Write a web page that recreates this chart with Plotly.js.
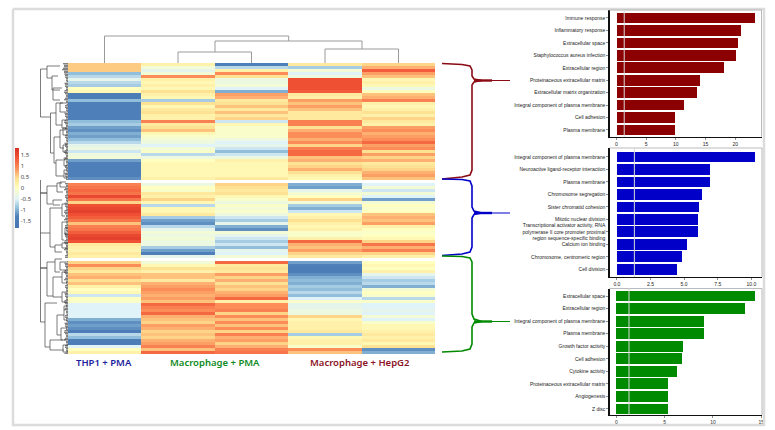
<!DOCTYPE html>
<html><head><meta charset="utf-8">
<script src="https://cdn.plot.ly/plotly-3.0.1.min.js"></script>
<style>html,body{margin:0;padding:0;background:#fff}#c{width:775px;height:430px}</style>
</head><body><div id="c"></div>
<script>
// ---------- heatmap data ----------
const col1 = [.55,.55,.55,-.9,-.7,-.4,-.7,-.8,0,.1,
 -1.4,-1.4,-.9,-1.3,-1.3,-1.3,-1.3,-1.3,-1.3,-.9,
 -.8,-1.1,-1.2,-1,-1.1,-.9,-.7,-.4,-.3,-.6,
 -.3,-.2,-1.1,-1.3,-1.3,-1.3,-1.3,-1.3,-1.2,null,
 1,1.1,1.2,1.1,1.5,1.1,.5,1.4,1.5,1.6,
 1.4,1.3,1.1,.6,1,1.1,1.3,1.5,1.6,1.4,
 .3,.2,.15,.3,.2,null,.5,.9,.5,.3,
 .6,.7,.4,.6,.2,0,.1,-.6,0,-.1,
 -.5,-.5,-.5,-.5,-.5,-1,-1.2,-1.1,-1.2,-1.4,
 -.7,-.9,-1.4,-1.4,-.5,0,.2];
const col2 = [.2,-.2,-.4,-.2,.9,.2,.1,.2,.1,.4,
 .2,.1,-.8,.4,.1,.3,.4,.2,.2,1,
 .3,.4,.6,.1,-.1,-.2,-.3,-.5,-.2,-.1,
 -.7,-.3,0,.1,.1,.1,.1,.1,.2,null,
 -.3,0,-.1,.3,.2,.5,.1,-.7,.1,.1,
 .3,-.8,-1.1,-1.2,-.7,-.4,-.2,-.3,-.2,-.3,
 -.3,-.8,-1.1,-1.3,-.4,null,-.2,.1,.4,.2,
 .6,.6,.3,.7,.8,.9,.8,.7,.8,.6,
 1.2,1,.9,1.2,.7,.6,.5,.8,.7,.5,
 .6,.5,.7,.8,1,.6,1.2];
const col3 = [-1.3,-.7,.2,.9,.4,-.3,-.3,-.2,-.5,-1,
 .8,.7,.3,.4,.6,.3,.6,.3,.5,-.6,
 .1,-.1,-.1,-.1,-.1,-.3,-.5,-.4,-.6,-.9,
 -.6,-.3,.2,.1,.1,.1,.1,.1,.3,null,
 .5,.4,.3,.4,.1,-.1,-.3,-.1,-.2,-.1,
 -.3,-.6,-.8,-.4,-1,-1.2,-.2,-.4,-.6,-.8,
 -.6,-.9,-.4,-.5,-.2,null,1.2,.3,.4,.3,
 .8,.5,.7,.4,.6,.5,.7,.8,1.2,.2,
 .9,.9,1,.5,.9,.6,.9,.6,.9,.5,
 1,.7,.8,.5,.7,1,1.1];
const col4 = [.3,-.8,-.2,-.5,-.3,1.4,1.4,1.4,1.4,1.3,
 .3,.2,.8,.6,.8,.6,.3,.3,.3,1,
 1,.4,.7,.9,.9,.7,.9,.5,1,1.2,
 1.2,.6,.7,.4,.5,.7,.4,.2,.1,null,
 -1,-1.1,-.4,-.2,0,.5,-.2,-.8,-1,-.6,
 .1,.2,.4,.2,.1,.2,-.1,-.1,.2,1.2,
 .7,.6,.8,.5,.3,null,-1.1,-1.3,-1.4,-1.4,
 -1.2,-1,-.9,-1,-.8,-.9,-.7,-.9,-.5,-.1,
 -.4,-.4,-.3,-.3,.5,.1,.2,.2,.2,.3,
 -.8,.1,.2,.2,-.1,.9,.6];
const col5 = [.5,.7,1.3,.8,.6,.1,.2,.1,-.3,0,
 .6,.7,1,.2,.1,.2,.4,.2,.5,.3,
 .2,.8,.9,.7,.8,.9,1.2,.8,.9,.4,
 .8,.5,.7,.3,.4,.5,.7,.8,.6,null,
 -.5,-.2,-.6,-.2,-.5,-1.1,-.2,0,-.1,0,
 .6,.7,.6,.8,.2,0,-.1,0,.1,.5,
 1.1,.7,1,.5,.2,null,0,.1,0,.2,
 -.4,-.6,-.8,-.7,-1,-.2,0,-.1,-.7,-.1,
 -.5,-.5,-.4,-.5,-.2,-.5,-.1,.1,.1,.2,
 .3,.2,.3,.1,.4,-1.2,-1];
const colorTicks = [1.5,1,0.5,0,-0.5,-1,-1.5];
const colorTickText = ['1.5','1','0.5','0','-0.5','-1','-1.5'];

// ---------- bar panel data ----------
const redTerms = ['Immune response','Inflammatory response','Extracellular space','Staphylococcus aureus infection','Extracellular region','Proteinaceous extracellular matrix','Extracellular matrix organization','Integral component of plasma membrane','Cell adhesion','Plasma membrane'];
const redValues = [23.4,21.0,20.4,20.2,18.1,14.0,13.5,11.4,9.9,9.85];
const blueTerms = ['Integral component of plasma membrane','Neuroactive ligand-receptor interaction','Plasma membrane','Chromosome segregation','Sister chromatid cohesion','Mitotic nuclear division','Transcriptional activator activity, RNA<br>polymerase II core promoter proximal<br>region sequence-specific binding','Calcium ion binding','Chromosome, centromeric region','Cell division'];
const blueValues = [10.27,6.91,6.91,6.34,6.12,6.02,6.0,5.23,4.86,4.47];
const greenTerms = ['Extracellular space','Extracellular region','Integral component of plasma membrane','Plasma membrane','Growth factor activity','Cell adhesion','Cytokine activity','Proteinaceous extracellular matrix','Angiogenesis','Z disc'];
const greenValues = [14.4,13.27,9.12,9.05,6.94,6.78,6.32,5.36,5.29,5.29];
const significanceLine = 1.3;

// ---------- annotation geometry in overlay units (pixels of the figure) ----------
// top dendrogram segments: x1,y1,x2,y2
const topTree = [[104.5,36,288.7,36],[104.5,36,104.5,63],[288.7,36,288.7,41],
 [215,41,362,41],[215,41,215,52],[178,52,251.5,52],[178,52,178,63],[251.5,52,251.5,63],
 [362,41,362,49],[325,49,398.5,49],[325,49,325,63],[398.5,49,398.5,63]];
// left dendrogram brackets: vertical x, y1, y2, arm end at y1, arm end at y2
const leftTree = [
 [40.5,69,117,47,50],[40.5,180,193,40.5,47],[40.5,193,233,47,50],[40.5,233,268,40.5,47],[40.5,268,322,47,45],
 [47,66,78,60,52],[52,76,90,58,60],[53,88,100,62,60],[50.5,113,153,56,54],
 [56,103,125,63,62],[60,103,112,66,66],[62,120,128,66,66],[54,137,163,60,56],
 [60,130,148,64,64],[63,128,135,67,67],[63,145,152,67,67],[56,160,176,63,64],[64,158,166,67,67],[64,170,178,67,67],
 [47,186,204,57,52],[57,183,192,62,63],[60,182,187,66,66],[53,200,205,62,60],
 [50,208,247,62,55],[62,204,216,65,65],[62,222,240,66,64],[65,228,235,68,68],[55,245,252,62,62],[62,243,248,68,68],
 [47,262,296,55,53],[55,259,272,62,60],[60,262,270,66,66],[53,277,297,62,62],[62,272,283,67,67],[62,292,302,67,67],
 [45,303,347,57,50],[57,315,335,64,61],[64,306,320,67,67],[61,328,340,67,66],[50,340,350,63,64],[63,345,352,68,68]];
const leafLengths = [3,2,4,2,3,2,1.5,3,2,3.5];
const redBrace = [[442,63.5],[462,64.5],[470,66],[472,70],[472,76],[474,79],[482,80.5],[474,82],[472,85],[472,170],[470,175],[462,177],[442,179]];
const blueBrace = [[442,179],[462,179.5],[470,181],[472,186],[472,207],[474,211],[482,213],[474,214.5],[472,218],[472,247],[470,252],[462,254],[442,255.5]];
const greenBrace = [[442,256],[462,256.5],[470,258],[472,262],[472,314],[474,319],[482,321.5],[474,323],[472,327],[472,344],[470,349],[462,351],[442,352]];
const braceTips = [[474,510,80.5,'#8b0a14'],[474,510,213,'#0000c8'],[474,510,321.5,'#008a00']];
const outerFrame = [[13,9],[764,9],[764,425],[13,425],[13,9]];
const panelFrames = [[[609.5,10],[761.5,10],[761.5,136.7]],[[609.5,148],[762,148],[762,277]],[[609.5,288.5],[762,288.5],[762,415]]];

const W=775,H=430;
const dx=(a,b)=>[a/W,b/W], dy=(t,b)=>[1-b/H,1-t/H];
const z = col1.map((_,i)=>[col1[i],col2[i],col3[i],col4[i],col5[i]]);
const rows = col1.map((_,i)=>i);
const lineFont = {family:'"Liberation Sans", Arial, sans-serif',size:5,color:'#222'};

const traces = [{
  type:'heatmap',z:z,x:[0,1,2,3,4],y:rows,zmin:-1.8,zmax:1.8,hoverongaps:false,xgap:0,ygap:0,
  colorscale:[[0,'#4575b4'],[.14,'#4f7fb8'],[.25,'#91bfdb'],[.36,'#e0f3f8'],[.5,'#ffffbf'],[.62,'#fee090'],[.75,'#fc8d59'],[.89,'#ef5033'],[1,'#d73027']],
  colorbar:{x:15/W,xanchor:'left',y:1-188/H,yanchor:'middle',lenmode:'pixels',len:80,thicknessmode:'pixels',thickness:3.5,
    xpad:0,ypad:0,outlinewidth:0,ticks:'',tickvals:colorTicks,ticktext:colorTickText,
    tickfont:{family:'"Noto Sans", sans-serif',size:6,color:'#444'}},
  xaxis:'x',yaxis:'y'
}];
const barSets=[[redTerms,redValues,'#8b0000','x2','y2'],[blueTerms,blueValues,'#0000c8','x3','y3'],[greenTerms,greenValues,'#008a00','x4','y4']];
barSets.forEach(s=>traces.push({type:'bar',orientation:'h',y:s[0],x:s[1],width:.86,marker:{color:s[2],line:{width:0}},xaxis:s[3],yaxis:s[4],showlegend:false}));

function overlay(xs,ys,color,width){traces.push({type:'scatter',mode:'lines',x:xs,y:ys,line:{color:color,width:width},xaxis:'x5',yaxis:'y5',hoverinfo:'skip',showlegend:false});}
overlay(outerFrame.map(p=>p[0]),outerFrame.map(p=>p[1]),'#dcdcdc',2.5);
let tx=[],ty=[];
topTree.forEach(s=>{tx.push(s[0],s[2],null);ty.push(s[1],s[3],null);});
overlay(tx,ty,'#9a9a9a',1);
let lx=[],ly=[];
leftTree.forEach(s=>{lx.push(s[3],s[0],s[0],s[4],null);ly.push(s[1],s[1],s[2],s[2],null);});
overlay(lx,ly,'#444',.7);
let fx=[],fy=[];
rows.forEach(i=>{ if(col1[i]===null) return; [.25,.75].forEach((o,k)=>{const yy=63+(i+o)*3; const n=leafLengths[(i+k*3)%leafLengths.length]+(i<4?2:0); fx.push(68-n,68,null); fy.push(yy,yy,null);});});
overlay(fx,fy,'#111',.7);
[[redBrace,'#8b0a14'],[blueBrace,'#0000c8'],[greenBrace,'#008a00']].forEach(b=>overlay(b[0].map(p=>p[0]),b[0].map(p=>p[1]),b[1],1.6));
braceTips.forEach(t=>{overlay([t[0],t[0]+(t[1]-t[0])*.5],[t[2],t[2]],t[3],2.4);overlay([t[0],t[1]],[t[2],t[2]],t[3],1.2);});
panelFrames.forEach(f=>overlay(f.map(p=>p[0]),f.map(p=>p[1]),'#aaaaaa',.8));

function xa(dom,range,tv,tt){return {domain:dx(dom[0],dom[1]),range:range,tickvals:tv,ticktext:tt,ticks:'outside',ticklen:2,tickwidth:.5,tickcolor:'#222',
  tickfont:lineFont,showgrid:false,zeroline:false,showline:true,linecolor:'#111',linewidth:1.2,fixedrange:true};}
function ya(dom,range,terms){return {domain:dy(dom[0],dom[1]),range:range,type:'category',categoryorder:'array',categoryarray:terms,ticks:'outside',ticklen:2,tickwidth:.5,tickcolor:'#222',
  tickfont:lineFont,showgrid:false,zeroline:false,showline:true,linecolor:'#111',linewidth:1.2,fixedrange:true,automargin:false};}

const panelX=[609.5,761.5];
const layout = {
  width:W,height:H,margin:{l:0,r:0,t:0,b:0},paper_bgcolor:'#fff',plot_bgcolor:'rgba(0,0,0,0)',showlegend:false,bargap:0,
  xaxis:{domain:dx(68,435),range:[-.5,4.5],visible:false,fixedrange:true},
  yaxis:{domain:dy(63,354),range:[96.5,-.5],visible:false,fixedrange:true},
  xaxis2:Object.assign(xa(panelX,[-1.18,24.44],[0,5,10,15,20],['0','5','10','15','20']),{anchor:'y2'}),
  yaxis2:Object.assign(ya([10,136.7],[9.54,-.64],redTerms),{anchor:'x2'}),
  xaxis3:Object.assign(xa(panelX,[-.55,10.76],[0,2.5,5,7.5,10],['0.0','2.5','5.0','7.5','10.0']),{anchor:'y3'}),
  yaxis3:Object.assign(ya([148,277],[9.62,-.72],blueTerms),{anchor:'x3'}),
  xaxis4:Object.assign(xa(panelX,[-.72,15.03],[0,5,10,15],['0','5','10','15']),{anchor:'y4'}),
  yaxis4:Object.assign(ya([288.5,415],[9.48,-.6],greenTerms),{anchor:'x4'}),
  xaxis5:{domain:[0,1],range:[0,W],visible:false,fixedrange:true,anchor:'y5'},
  yaxis5:{domain:[0,1],range:[H,0],visible:false,fixedrange:true,anchor:'x5'},
  shapes:['x2','x3','x4'].map((a,i)=>({type:'line',xref:a,yref:'y'+(i+2)+' domain',x0:significanceLine,x1:significanceLine,y0:0,y1:1,line:{color:'#d9d9d9',width:1},layer:'above'})),
  annotations:[
    ['THP1 + PMA',104,'#1c1c9c'],['Macrophage + PMA',215,'#0f8a24'],['Macrophage + HepG2',360,'#8b1426']
  ].map(a=>({text:a[0],x:a[1]/W,y:1-362/H,xref:'paper',yref:'paper',xanchor:'center',yanchor:'middle',showarrow:false,
    font:{family:'"Noto Sans", sans-serif',size:9.5,weight:600,color:a[2]}}))
};
Plotly.newPlot('c',traces,layout,{displayModeBar:false,staticPlot:true});
</script></body></html>
